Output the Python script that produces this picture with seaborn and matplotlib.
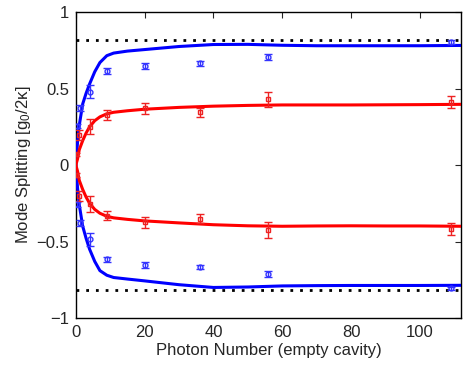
import matplotlib
matplotlib.use("Agg")
import matplotlib.pyplot as plt
import seaborn as sns
import pandas as pd

# measured points
blue_x = [0.3, 1.2, 4, 9, 20, 36, 56, 109]
blue_up = [0.255, 0.375, 0.48, 0.614, 0.65, 0.665, 0.708, 0.806]
blue_lo = [-0.257, -0.38, -0.486, -0.616, -0.655, -0.667, -0.712, -0.806]
blue_err = [0.015, 0.02, 0.044, 0.018, 0.02, 0.015, 0.02, 0.012]

red_x = [0.1, 1.0, 4, 9, 20, 36, 56, 109]
red_up = [0.07, 0.196, 0.25, 0.327, 0.37, 0.344, 0.43, 0.414]
red_lo = [-0.065, -0.2, -0.255, -0.33, -0.375, -0.35, -0.425, -0.416]
red_err = [0.012, 0.033, 0.05, 0.03, 0.038, 0.028, 0.05, 0.04]

# theory curves
curve_x = [0, 0.5, 1, 2, 3, 4, 5.5, 7, 9, 11, 15, 20, 30, 40, 50, 60, 70, 80, 90, 100, 112]
blue_curve_up = [0.0, 0.15, 0.26, 0.40, 0.47, 0.53, 0.61, 0.67, 0.715, 0.732, 0.745, 0.755, 0.775, 0.788, 0.789, 0.783, 0.78, 0.78, 0.78, 0.78, 0.782]
blue_curve_lo = [0.0, -0.15, -0.26, -0.40, -0.48, -0.55, -0.63, -0.69, -0.72, -0.735, -0.745, -0.757, -0.782, -0.80, -0.797, -0.79, -0.788, -0.787, -0.787, -0.787, -0.786]
red_curve_up = [0.0, 0.04, 0.10, 0.16, 0.21, 0.25, 0.29, 0.315, 0.335, 0.345, 0.355, 0.365, 0.377, 0.385, 0.39, 0.393, 0.393, 0.393, 0.394, 0.395, 0.397]
red_curve_lo = [0.0, -0.04, -0.10, -0.16, -0.21, -0.25, -0.29, -0.315, -0.335, -0.345, -0.355, -0.365, -0.378, -0.39, -0.397, -0.4, -0.398, -0.397, -0.398, -0.398, -0.4]

limit = 0.817
xticks = [0, 20, 40, 60, 80, 100]
yticks = [-1, -0.5, 0, 0.5, 1]
ytick_labels = ["\u22121", "\u22120.5", "0", "0.5", "1"]

sns.set_style("white")
plt.rcParams["font.family"] = ["Liberation Sans", "DejaVu Sans"]
plt.rcParams["mathtext.fontset"] = "custom"
plt.rcParams["mathtext.rm"] = "Liberation Sans"
plt.rcParams["mathtext.it"] = "Liberation Sans"

fig = plt.figure(figsize=(4.71, 3.66), dpi=100)
ax = fig.add_axes([0.161, 0.131, 0.818, 0.836])

ax.axhline(limit, color="black", lw=2, ls=(0, (1, 2.5)), zorder=1)
ax.axhline(-limit, color="black", lw=2, ls=(0, (1, 2.5)), zorder=1)

dfc = pd.DataFrame({"x": curve_x, "bu": blue_curve_up, "bl": blue_curve_lo,
                    "ru": red_curve_up, "rl": red_curve_lo})
for col, c in [("bu", "#0000ff"), ("bl", "#0000ff"), ("ru", "#ff0000"), ("rl", "#ff0000")]:
    sns.lineplot(data=dfc, x="x", y=col, color=c, lw=2.2, ax=ax, zorder=3)

for ys in (blue_up, blue_lo):
    ax.errorbar(blue_x, ys, yerr=blue_err, fmt="o", ms=3.5, mfc="none", mec="#3333ff",
                mew=1, ecolor="#3333ff", elinewidth=1, capsize=3, zorder=4)
for ys in (red_up, red_lo):
    ax.errorbar(red_x, ys, yerr=red_err, fmt="s", ms=3.5, mfc="none", mec="#ee2222",
                mew=1, ecolor="#ee2222", elinewidth=1, capsize=3, zorder=4)

ax.set_xlim(0, 112)
ax.set_ylim(-1, 1)
ax.set_xticks(xticks)
ax.set_yticks(yticks)
ax.set_yticklabels(ytick_labels)
ax.tick_params(direction="in", top=True, right=True, length=4, width=0.8, labelsize=12, pad=5)
for s in ax.spines.values():
    s.set_color("black")
    s.set_linewidth(1)
ax.set_xlabel("Photon Number (empty cavity)", fontsize=12)
ax.set_ylabel("Mode Splitting [g$_0$/2\u03ba]", fontsize=12)
ax.xaxis.set_label_coords(0.5, -0.08)
ax.yaxis.set_label_coords(-0.112, 0.5)

fig.savefig("out.png", dpi=100)
